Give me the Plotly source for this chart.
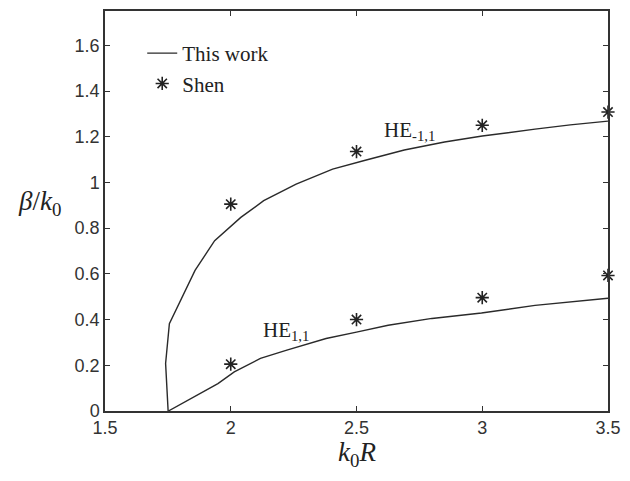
import plotly.graph_objects as go

# HE-1,1 curve (This work)
k_upper = [1.751, 1.741, 1.756, 1.80, 1.838, 1.858, 1.90, 1.936, 2.04, 2.131, 2.26, 2.405, 2.535, 2.69, 2.85, 3.0, 3.21, 3.35, 3.50]
b_upper = [0.0, 0.208, 0.382, 0.483, 0.571, 0.615, 0.685, 0.745, 0.847, 0.92, 0.993, 1.058, 1.097, 1.142, 1.177, 1.203, 1.233, 1.252, 1.268]

# HE1,1 curve (This work)
k_lower = [1.752, 1.85, 1.949, 2.014, 2.118, 2.223, 2.379, 2.50, 2.626, 2.80, 2.997, 3.21, 3.35, 3.50]
b_lower = [0.0, 0.06, 0.12, 0.171, 0.23, 0.266, 0.317, 0.345, 0.375, 0.405, 0.429, 0.462, 0.478, 0.493]

# Shen reference points
k_shen = [2.0, 2.5, 3.0, 3.5]
b_shen_upper = [0.905, 1.135, 1.25, 1.308]
b_shen_lower = [0.205, 0.40, 0.496, 0.593]

x_ticks = [1.5, 2, 2.5, 3, 3.5]
x_tick_labels = ["1.5", "2", "2.5", "3", "3.5"]
y_ticks = [0, 0.2, 0.4, 0.6, 0.8, 1.0, 1.2, 1.4, 1.6]
y_tick_labels = ["0", "0.2", "0.4", "0.6", "0.8", "1", "1.2", "1.4", "1.6"]

line_color = "#2a2a2a"
fig = go.Figure()
fig.add_trace(go.Scatter(x=k_upper, y=b_upper, mode="lines", name="This work",
                         line=dict(color=line_color, width=1.4)))
fig.add_trace(go.Scatter(x=k_lower, y=b_lower, mode="lines", name="This work",
                         line=dict(color=line_color, width=1.4), showlegend=False))
fig.add_trace(go.Scatter(x=k_shen + k_shen, y=b_shen_upper + b_shen_lower, mode="markers", name="Shen",
                         marker=dict(symbol="asterisk-open", size=11, color="#222",
                                     line=dict(color="#222", width=1.6)),
                         cliponaxis=False))

fig.add_annotation(x=2.6, y=1.225, xref="x", yref="y", text="HE<sub>-1,1</sub>", showarrow=False,
                   xanchor="left", yanchor="middle",
                   font=dict(family="Liberation Serif", size=21, color="#222"))
fig.add_annotation(x=2.12, y=0.35, xref="x", yref="y", text="HE<sub>1,1</sub>", showarrow=False,
                   xanchor="left", yanchor="middle",
                   font=dict(family="Liberation Serif", size=21, color="#222"))

# axis titles
fig.add_annotation(x=-0.131, y=0.52, xref="paper", yref="paper",
                   text="<i>β</i>/<i>k</i><sub>0</sub>", showarrow=False,
                   xanchor="center", yanchor="middle",
                   font=dict(family="Liberation Serif", size=27, color="#222"))
fig.add_annotation(x=0.5, y=-0.06, xref="paper", yref="paper",
                   text="<i>k</i><sub>0</sub><i>R</i>", showarrow=False,
                   xanchor="center", yanchor="top",
                   font=dict(family="Liberation Serif", size=27, color="#222"))

axis_common = dict(showline=True, linecolor="#333", linewidth=1.5, mirror="ticks",
                   ticks="inside", ticklen=5, tickcolor="#333", tickwidth=1.3,
                   showgrid=False, zeroline=False,
                   tickfont=dict(family="Liberation Sans", size=18, color="#333"))

fig.update_xaxes(range=[1.5, 3.5], tickvals=x_ticks, ticktext=x_tick_labels, **axis_common)
fig.update_yaxes(range=[0, 1.75], tickvals=y_ticks, ticktext=y_tick_labels, **axis_common)

fig.update_layout(
    width=630, height=481,
    margin=dict(l=105, r=14, t=9, b=70),
    plot_bgcolor="white", paper_bgcolor="white",
    legend=dict(x=0.074, y=0.945, xanchor="left", yanchor="top",
                bgcolor="rgba(0,0,0,0)", itemwidth=30,
                font=dict(family="Liberation Serif", size=21, color="#222"),
                tracegroupgap=0),
)

fig.write_html("out.html")
